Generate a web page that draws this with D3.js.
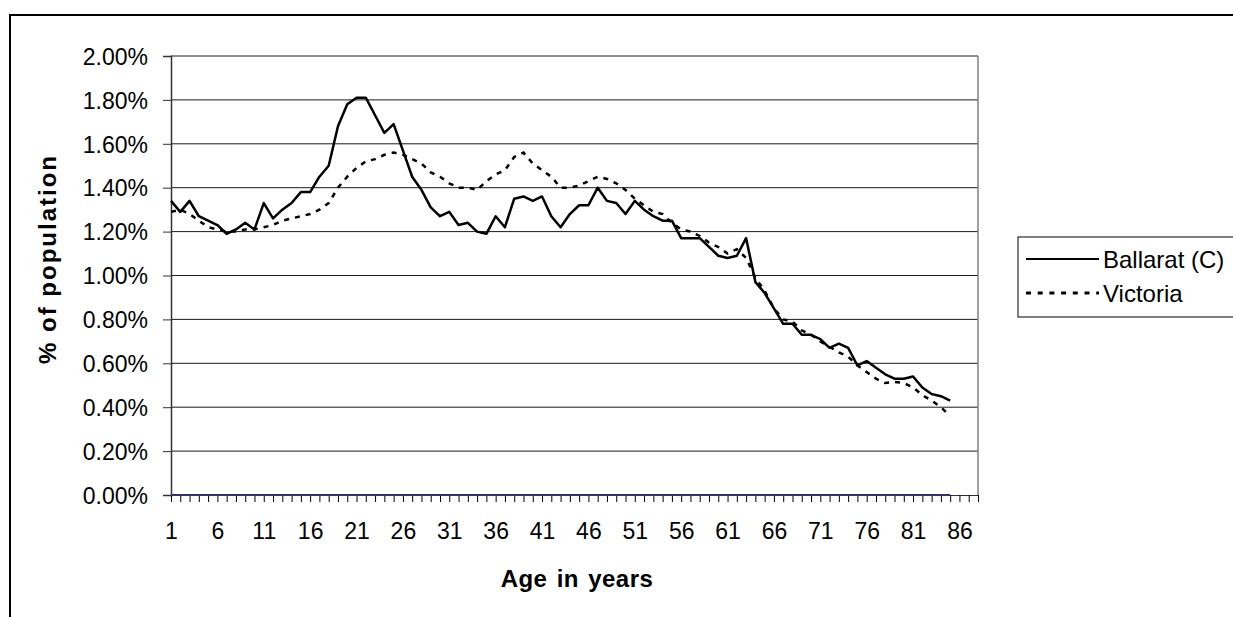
<!DOCTYPE html>
<html>
<head>
<meta charset="utf-8">
<script src="https://cdn.jsdelivr.net/npm/d3@7"></script>
<style>
  body { margin: 0; background: #fff; }
  svg { display: block; font-family: Arial, "Liberation Sans", sans-serif; }
</style>
</head>
<body>
<div id="chart"></div>
<script>
// categories (age in years) - axis runs a bit past the last data point
const ages = [1,2,3,4,5,6,7,8,9,10,11,12,13,14,15,16,17,18,19,20,
  21,22,23,24,25,26,27,28,29,30,31,32,33,34,35,36,37,38,39,40,
  41,42,43,44,45,46,47,48,49,50,51,52,53,54,55,56,57,58,59,60,
  61,62,63,64,65,66,67,68,69,70,71,72,73,74,75,76,77,78,79,80,
  81,82,83,84,85,86,87,88];

// % of population, ages 1..85
const ballarat = [1.34,1.29,1.34,1.27,1.25,1.23,1.19,1.21,1.24,1.21,
  1.33,1.26,1.30,1.33,1.38,1.38,1.45,1.50,1.68,1.78,
  1.81,1.81,1.73,1.65,1.69,1.57,1.45,1.39,1.31,1.27,
  1.29,1.23,1.24,1.20,1.19,1.27,1.22,1.35,1.36,1.34,
  1.36,1.27,1.22,1.28,1.32,1.32,1.40,1.34,1.33,1.28,
  1.34,1.30,1.27,1.25,1.25,1.17,1.17,1.17,1.13,1.09,
  1.08,1.09,1.17,0.97,0.92,0.85,0.78,0.78,0.73,0.73,
  0.71,0.67,0.69,0.67,0.59,0.61,0.58,0.55,0.53,0.53,
  0.54,0.49,0.46,0.45,0.43];

const victoria = [1.29,1.30,1.28,1.25,1.22,1.21,1.20,1.20,1.21,1.21,
  1.22,1.23,1.25,1.26,1.27,1.28,1.30,1.33,1.40,1.45,
  1.49,1.52,1.53,1.55,1.56,1.55,1.53,1.51,1.47,1.45,
  1.42,1.40,1.40,1.39,1.43,1.46,1.48,1.54,1.56,1.51,
  1.48,1.45,1.40,1.40,1.41,1.43,1.45,1.44,1.42,1.39,
  1.35,1.32,1.29,1.28,1.24,1.21,1.20,1.18,1.15,1.13,
  1.10,1.12,1.08,0.99,0.93,0.85,0.80,0.79,0.75,0.73,
  0.70,0.675,0.65,0.63,0.59,0.56,0.53,0.51,0.515,0.51,
  0.49,0.455,0.43,0.40,0.36];

const yTicks = [0, 0.2, 0.4, 0.6, 0.8, 1.0, 1.2, 1.4, 1.6, 1.8, 2.0];
const seriesNames = ["Ballarat (C)", "Victoria"];
const xTitle = "Age in years";
const yTitle = "% of population";

const W = 1233, H = 617;
const plot = { left: 171, right: 978, top: 56, bottom: 495 };

const svg = d3.select("#chart").append("svg")
  .attr("width", W)
  .attr("height", H);

// outer chart frame (runs off the right and bottom edges)
svg.append("rect")
  .attr("x", 10).attr("y", 15)
  .attr("width", 1240).attr("height", 625)
  .style("fill", "none")
  .style("stroke", "#000")
  .style("stroke-width", "2px");

const x = d3.scalePoint()
  .domain(ages)
  .range([plot.left, plot.right]);

const y = d3.scaleLinear()
  .domain([0, 2.0])
  .range([plot.bottom, plot.top]);

// gridlines
svg.append("g")
  .selectAll("line")
  .data(yTicks.filter(d => d > 0))
  .enter()
  .append("line")
  .attr("x1", plot.left).attr("x2", plot.right)
  .attr("y1", d => y(d)).attr("y2", d => y(d))
  .style("stroke", "#1a1a1a")
  .style("stroke-width", "1px");

// right plot border
svg.append("line")
  .attr("x1", plot.right).attr("x2", plot.right)
  .attr("y1", plot.top).attr("y2", plot.bottom)
  .style("stroke", "#808080")
  .style("stroke-width", "1.5px");

// y axis
const yAxis = svg.append("g")
  .attr("transform", `translate(${plot.left},0)`)
  .call(d3.axisLeft(y).tickValues(yTicks).tickSize(8).tickPadding(15)
    .tickFormat(d => d3.format(".2f")(d) + "%"));
yAxis.select(".domain").style("stroke", "#333").style("stroke-width", "1.5px");
yAxis.selectAll(".tick line").style("stroke", "#333");
yAxis.selectAll("text")
  .style("font-size", "23px")
  .style("fill", "#000")
  .attr("dy", "0.36em");

// x axis: ticks at every category, labels every fifth
const xAxis = svg.append("g")
  .attr("transform", `translate(0,${plot.bottom})`)
  .call(d3.axisBottom(x).tickSize(7).tickPadding(21)
    .tickFormat((d, i) => i % 5 === 0 ? d : ""));
xAxis.select(".domain").style("stroke", "#333").style("stroke-width", "1px");
xAxis.selectAll(".tick line").style("stroke", "#000");
xAxis.selectAll("text")
  .style("font-size", "23px")
  .style("fill", "#000");

// navy zero line over the data span
svg.append("line")
  .attr("x1", x(ages[0]))
  .attr("x2", x(ages[ballarat.length - 1]))
  .attr("y1", y(0)).attr("y2", y(0))
  .style("stroke", "#333366")
  .style("stroke-width", "2px");

const line = d3.line()
  .x((d, i) => x(ages[i]))
  .y(d => y(d));

svg.append("path")
  .datum(victoria)
  .attr("d", line)
  .style("fill", "none")
  .style("stroke", "#000")
  .style("stroke-width", "2.5px")
  .style("stroke-dasharray", "5,6");

svg.append("path")
  .datum(ballarat)
  .attr("d", line)
  .style("fill", "none")
  .style("stroke", "#000")
  .style("stroke-width", "2.5px")
  .style("stroke-linejoin", "round");

// axis titles
svg.append("text")
  .attr("x", 577).attr("y", 587)
  .style("text-anchor", "middle")
  .style("font-size", "24px")
  .style("font-weight", "bold")
  .style("letter-spacing", "0.5px")
  .style("word-spacing", "2px")
  .text(xTitle);

svg.append("text")
  .attr("transform", "translate(56,259) rotate(-90)")
  .style("text-anchor", "middle")
  .style("font-size", "24px")
  .style("font-weight", "bold")
  .style("letter-spacing", "2px")
  .text(yTitle);

// legend
const legend = svg.append("g").attr("transform", "translate(1018,237)");
legend.append("rect")
  .attr("width", 240).attr("height", 80)
  .style("fill", "#fff")
  .style("stroke", "#000")
  .style("stroke-width", "1px");

const entries = legend.selectAll(".entry")
  .data(seriesNames)
  .enter()
  .append("g")
  .attr("class", "entry")
  .attr("transform", (d, i) => `translate(0,${22 + i * 34})`);

entries.append("line")
  .attr("x1", 8).attr("x2", 81)
  .style("stroke", "#000")
  .style("stroke-width", d => d === seriesNames[0] ? "2px" : "3px")
  .style("stroke-dasharray", d => d === seriesNames[0] ? null : "5,6.7");

entries.append("text")
  .attr("x", 85)
  .attr("dy", "0.36em")
  .style("font-size", "24px")
  .text(d => d);
</script>
</body>
</html>
